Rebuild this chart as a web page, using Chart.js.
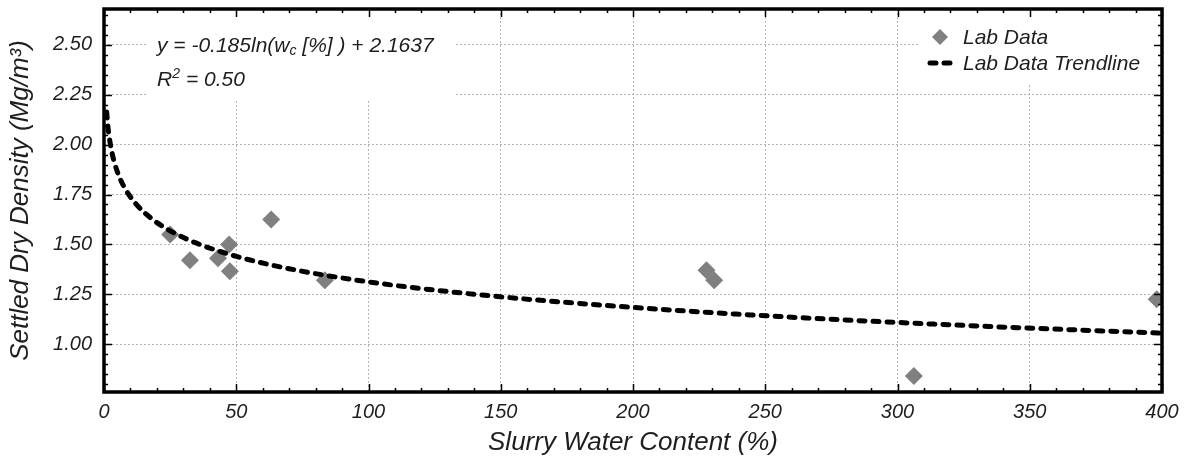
<!DOCTYPE html>
<html>
<head>
<meta charset="utf-8">
<script src="https://cdn.jsdelivr.net/npm/chart.js@4.4.1/dist/chart.umd.min.js"></script>
<style>
  html, body { margin: 0; padding: 0; background: #fff; }
  #wrap { width: 1187px; height: 462px; }
</style>
</head>
<body>
<div id="wrap"><canvas id="densityChart" width="1187" height="462"></canvas></div>
<script>
// lab measurements (slurry water content %, settled dry density Mg/m3)
const waterContent = [25.0, 32.5, 43.1, 47.3, 47.6, 63.2, 83.5, 227.8, 230.7, 306.2, 398.0]
const dryDensity = [1.55, 1.42, 1.43, 1.50, 1.365, 1.625, 1.32, 1.37, 1.32, 0.84, 1.225]

// trendline y = -0.185 ln(wc) + 2.1637
const trendX = [1, 1.5, 2, 3, 4, 6, 8, 12, 18, 25, 35, 50, 70, 100, 140, 200, 260, 330, 400]
const trendY = [2.164, 2.089, 2.036, 1.961, 1.907, 1.832, 1.779, 1.704, 1.629, 1.568, 1.506, 1.440, 1.378, 1.312, 1.250, 1.184, 1.135, 1.091, 1.055]

const xTicks = [0, 50, 100, 150, 200, 250, 300, 350, 400]
const yTicks = [1.00, 1.25, 1.50, 1.75, 2.00, 2.25, 2.50]

const FONT = "'Liberation Sans', Arial, sans-serif"
const TEXT = '#1e1e1e'
const GRID = '#b4b4b4'

const ctx = document.getElementById('densityChart').getContext('2d')

// white boxes behind the equation and legend, then frame and inward ticks
const framePlugin = {
  id: 'frame',
  beforeDatasetsDraw(chart) {
    const c = chart.ctx
    const a = chart.chartArea
    c.save()
    c.fillStyle = '#fff'
    c.fillRect(147, a.top, 308, 100 - a.top)
    c.fillRect(920, a.top, a.right - 920, 83 - a.top)
    c.restore()
  },
  afterDatasetsDraw(chart) {
    const c = chart.ctx
    const a = chart.chartArea
    const xs = chart.scales.x
    const ys = chart.scales.y
    c.save()
    c.strokeStyle = '#000'
    c.lineWidth = 1.5
    c.beginPath()
    for (let v = 0; v <= 400; v += 10) {
      const px = Math.round(xs.getPixelForValue(v)) + 0.5
      const len = v % 50 === 0 ? 8 : 4
      c.moveTo(px, a.bottom); c.lineTo(px, a.bottom - len)
      c.moveTo(px, a.top); c.lineTo(px, a.top + len)
    }
    for (let i = 0; i <= 40; i++) {
      const v = 0.80 + i * 0.05
      if (v > ys.max) break
      const py = Math.round(ys.getPixelForValue(v)) + 0.5
      const len = i % 5 === 4 ? 8 : 4
      c.moveTo(a.left, py); c.lineTo(a.left + len, py)
      c.moveTo(a.right, py); c.lineTo(a.right - len, py)
    }
    c.stroke()
    c.lineWidth = 3.5
    c.strokeRect(a.left, a.top, a.right - a.left, a.bottom - a.top)
    c.restore()
  },
  afterDraw(chart) {
    const c = chart.ctx
    const a = chart.chartArea
    c.save()
    c.fillStyle = TEXT
    c.textBaseline = 'alphabetic'
    c.font = 'italic 21px ' + FONT

    // equation text
    let x = 157
    const y1 = 52
    const part1 = 'y = -0.185ln(w'
    c.fillText(part1, x, y1)
    x += c.measureText(part1).width
    c.font = 'italic 14px ' + FONT
    c.fillText('c', x, y1 + 3)
    x += c.measureText('c').width
    c.font = 'italic 21px ' + FONT
    c.fillText(' [%] ) + 2.1637', x, y1)

    c.fillText('R', 157, 86)
    const rw = c.measureText('R').width
    c.font = 'italic 14px ' + FONT
    c.fillText('2', 157 + rw, 78)
    const sw = c.measureText('2').width
    c.font = 'italic 21px ' + FONT
    c.fillText('= 0.50', 157 + rw + sw + 6, 86)

    // legend
    const pts = chart.data.datasets[0]
    const trend = chart.data.datasets[1]
    c.fillStyle = pts.backgroundColor
    c.beginPath()
    c.moveTo(940, 29); c.lineTo(948, 37); c.lineTo(940, 45); c.lineTo(932, 37)
    c.closePath()
    c.fill()
    c.strokeStyle = trend.borderColor
    c.lineWidth = trend.borderWidth
    c.lineCap = 'round'
    c.setLineDash(trend.borderDash)
    c.beginPath()
    c.moveTo(930, 63); c.lineTo(952, 63)
    c.stroke()
    c.setLineDash([])
    c.fillStyle = TEXT
    c.textBaseline = 'middle'
    c.fillText(pts.label, 963, 38)
    c.fillText(trend.label, 963, 64)

    // x axis title
    c.font = 'italic 26px ' + FONT
    c.textAlign = 'center'
    c.textBaseline = 'alphabetic'
    c.fillText('Slurry Water Content (%)', (a.left + a.right) / 2, 450)
    c.restore()
  }
}

let densityChart = new Chart(ctx, {
  type: 'scatter',
  data: {
    datasets: [
      {
        label: 'Lab Data',
        data: waterContent.map((w, i) => ({ x: w, y: dryDensity[i] })),
        backgroundColor: '#808080',
        borderWidth: 0,
        pointStyle: 'rectRot',
        pointRadius: 9,
        pointHoverRadius: 9,
        order: 1
      },
      {
        label: 'Lab Data Trendline',
        data: trendX.map((w, i) => ({ x: w, y: trendY[i] })),
        showLine: true,
        borderColor: '#000',
        borderWidth: 5,
        borderDash: [6, 8],
        borderCapStyle: 'round',
        cubicInterpolationMode: 'monotone',
        pointRadius: 0,
        order: 0
      }
    ]
  },
  options: {
    responsive: false,
    devicePixelRatio: 1,
    animation: false,
    layout: { padding: { left: 0, right: 25, top: 8, bottom: 0 } },
    plugins: {
      legend: { display: false },
      tooltip: { enabled: false }
    },
    scales: {
      x: {
        type: 'linear',
        min: 0,
        max: 400,
        afterBuildTicks: (s) => { s.ticks = xTicks.map(v => ({ value: v })) },
        afterFit: (s) => { s.height = 70; s.paddingLeft = 0; s.paddingRight = 0 },
        ticks: {
          padding: 8,
          maxRotation: 0,
          color: TEXT,
          font: { family: FONT, size: 20, style: 'italic' },
          callback: (v) => String(v)
        },
        grid: { color: GRID, lineWidth: 1, drawTicks: false },
        border: { display: false, dash: [2, 2] }
      },
      y: {
        type: 'linear',
        min: 0.76,
        max: 2.68,
        afterBuildTicks: (s) => { s.ticks = yTicks.map(v => ({ value: v })) },
        afterFit: (s) => { s.width = 104; s.paddingTop = 0; s.paddingBottom = 0 },
        ticks: {
          padding: 12,
          color: TEXT,
          font: { family: FONT, size: 20, style: 'italic' },
          callback: (v) => Number(v).toFixed(2)
        },
        grid: { color: GRID, lineWidth: 1, drawTicks: false },
        border: { display: false, dash: [2, 2] },
        title: {
          display: true,
          text: 'Settled Dry Density (Mg/m³)',
          color: TEXT,
          font: { family: FONT, size: 26, style: 'italic' },
          padding: { top: 5, bottom: 0 }
        }
      }
    }
  },
  plugins: [framePlugin]
})
</script>
</body>
</html>
